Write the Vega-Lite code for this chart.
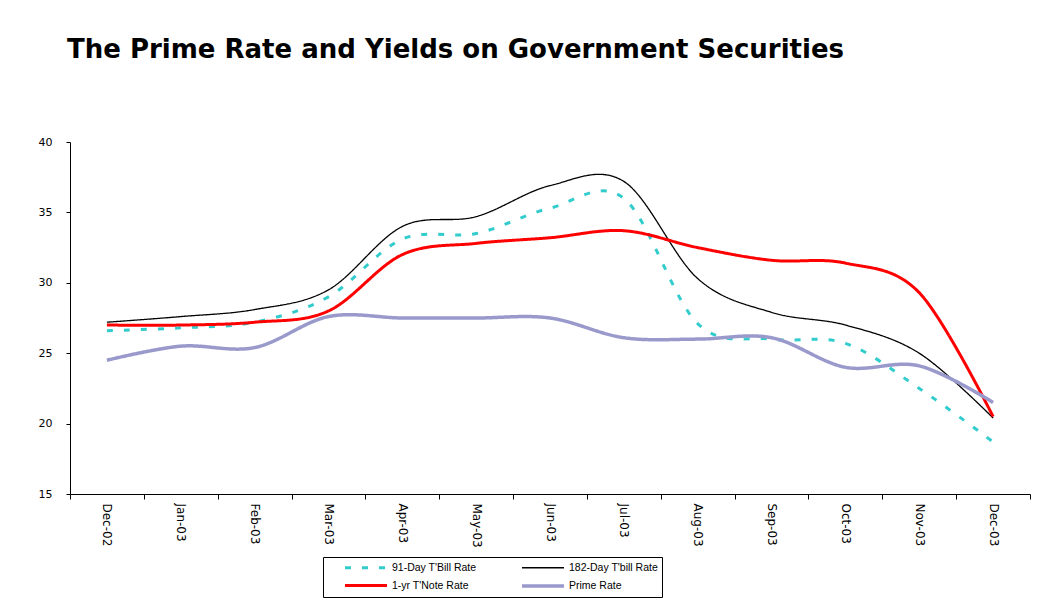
{
  "$schema": "https://vega.github.io/schema/vega-lite/v6.json",
  "width": 960,
  "height": 352,
  "autosize": {"type": "none"},
  "padding": {"left": 70, "top": 142, "right": 22, "bottom": 107},
  "background": "white",
  "title": {
    "text": "The Prime Rate and Yields on Government Securities",
    "anchor": "start",
    "frame": "group",
    "offset": 73,
    "dx": -3,
    "font": "DejaVu Sans",
    "fontSize": 26,
    "fontWeight": "bold",
    "color": "black"
  },
  "config": {
    "view": {"stroke": null},
    "axis": {
      "labelFont": "DejaVu Sans",
      "labelColor": "black",
      "domainColor": "black",
      "tickColor": "black",
      "grid": false,
      "title": null
    }
  },
  "data": {
    "values": [
      {"month": "Dec-02", "series": "91-Day T'Bill Rate", "value": 26.6},
      {"month": "Jan-03", "series": "91-Day T'Bill Rate", "value": 26.8},
      {"month": "Feb-03", "series": "91-Day T'Bill Rate", "value": 27.2},
      {"month": "Mar-03", "series": "91-Day T'Bill Rate", "value": 29.0},
      {"month": "Apr-03", "series": "91-Day T'Bill Rate", "value": 33.1},
      {"month": "May-03", "series": "91-Day T'Bill Rate", "value": 33.5},
      {"month": "Jun-03", "series": "91-Day T'Bill Rate", "value": 35.3},
      {"month": "Jul-03", "series": "91-Day T'Bill Rate", "value": 36.0},
      {"month": "Aug-03", "series": "91-Day T'Bill Rate", "value": 27.1},
      {"month": "Sep-03", "series": "91-Day T'Bill Rate", "value": 26.0},
      {"month": "Oct-03", "series": "91-Day T'Bill Rate", "value": 25.7},
      {"month": "Nov-03", "series": "91-Day T'Bill Rate", "value": 22.5},
      {"month": "Dec-03", "series": "91-Day T'Bill Rate", "value": 18.7},
      {"month": "Dec-02", "series": "182-Day T'bill Rate", "value": 27.2},
      {"month": "Jan-03", "series": "182-Day T'bill Rate", "value": 27.6},
      {"month": "Feb-03", "series": "182-Day T'bill Rate", "value": 28.1},
      {"month": "Mar-03", "series": "182-Day T'bill Rate", "value": 29.5},
      {"month": "Apr-03", "series": "182-Day T'bill Rate", "value": 34.0},
      {"month": "May-03", "series": "182-Day T'bill Rate", "value": 34.7},
      {"month": "Jun-03", "series": "182-Day T'bill Rate", "value": 36.9},
      {"month": "Jul-03", "series": "182-Day T'bill Rate", "value": 37.2},
      {"month": "Aug-03", "series": "182-Day T'bill Rate", "value": 30.3},
      {"month": "Sep-03", "series": "182-Day T'bill Rate", "value": 27.9},
      {"month": "Oct-03", "series": "182-Day T'bill Rate", "value": 27.0},
      {"month": "Nov-03", "series": "182-Day T'bill Rate", "value": 25.0},
      {"month": "Dec-03", "series": "182-Day T'bill Rate", "value": 20.4},
      {"month": "Dec-02", "series": "1-yr T'Note Rate", "value": 27.0},
      {"month": "Jan-03", "series": "1-yr T'Note Rate", "value": 27.0},
      {"month": "Feb-03", "series": "1-yr T'Note Rate", "value": 27.2},
      {"month": "Mar-03", "series": "1-yr T'Note Rate", "value": 28.0},
      {"month": "Apr-03", "series": "1-yr T'Note Rate", "value": 32.0},
      {"month": "May-03", "series": "1-yr T'Note Rate", "value": 32.8},
      {"month": "Jun-03", "series": "1-yr T'Note Rate", "value": 33.2},
      {"month": "Jul-03", "series": "1-yr T'Note Rate", "value": 33.7},
      {"month": "Aug-03", "series": "1-yr T'Note Rate", "value": 32.5},
      {"month": "Sep-03", "series": "1-yr T'Note Rate", "value": 31.6},
      {"month": "Oct-03", "series": "1-yr T'Note Rate", "value": 31.4},
      {"month": "Nov-03", "series": "1-yr T'Note Rate", "value": 29.3},
      {"month": "Dec-03", "series": "1-yr T'Note Rate", "value": 20.5},
      {"month": "Dec-02", "series": "Prime Rate", "value": 24.5},
      {"month": "Jan-03", "series": "Prime Rate", "value": 25.5},
      {"month": "Feb-03", "series": "Prime Rate", "value": 25.4},
      {"month": "Mar-03", "series": "Prime Rate", "value": 27.6},
      {"month": "Apr-03", "series": "Prime Rate", "value": 27.5},
      {"month": "May-03", "series": "Prime Rate", "value": 27.5},
      {"month": "Jun-03", "series": "Prime Rate", "value": 27.5},
      {"month": "Jul-03", "series": "Prime Rate", "value": 26.1},
      {"month": "Aug-03", "series": "Prime Rate", "value": 26.0},
      {"month": "Sep-03", "series": "Prime Rate", "value": 26.1},
      {"month": "Oct-03", "series": "Prime Rate", "value": 24.0},
      {"month": "Nov-03", "series": "Prime Rate", "value": 24.1},
      {"month": "Dec-03", "series": "Prime Rate", "value": 21.5}
    ]
  },
  "mark": {"type": "line", "interpolate": "cardinal"},
  "encoding": {
    "x": {
      "field": "month",
      "type": "ordinal",
      "sort": ["Dec-02", "Jan-03", "Feb-03", "Mar-03", "Apr-03", "May-03", "Jun-03", "Jul-03", "Aug-03", "Sep-03", "Oct-03", "Nov-03", "Dec-03"],
      "scale": {"type": "band", "paddingInner": 0, "paddingOuter": 0},
      "bandPosition": 0.5,
      "axis": {
        "labelAngle": 90,
        "tickBand": "extent",
        "tickSize": 5,
        "labelPadding": 4,
        "labelFontSize": 12
      }
    },
    "y": {
      "field": "value",
      "type": "quantitative",
      "scale": {"domain": [15, 40], "nice": false, "zero": false},
      "axis": {
        "values": [15, 20, 25, 30, 35, 40],
        "tickSize": 4,
        "labelPadding": 14,
        "labelFontSize": 11
      }
    },
    "color": {
      "field": "series",
      "type": "nominal",
      "scale": {
        "domain": ["91-Day T'Bill Rate", "182-Day T'bill Rate", "1-yr T'Note Rate", "Prime Rate"],
        "range": ["#33CCCC", "#000000", "#FF0000", "#9999CC"]
      },
      "legend": {
        "title": null,
        "orient": "none",
        "legendX": 253,
        "legendY": 415,
        "columns": 2,
        "direction": "horizontal",
        "strokeColor": "black",
        "fillColor": "white",
        "padding": 4,
        "symbolType": "M-4.2,0H4.2",
        "symbolSize": 100,
        "symbolOffset": 32,
        "labelOffset": 19,
        "columnPadding": 27,
        "rowPadding": 5,
        "labelFont": "Liberation Sans",
        "labelFontSize": 10.5,
        "labelColor": "black",
        "labelLimit": 200
      }
    },
    "strokeDash": {
      "field": "series",
      "type": "nominal",
      "scale": {
        "domain": ["91-Day T'Bill Rate", "182-Day T'bill Rate", "1-yr T'Note Rate", "Prime Rate"],
        "range": [[6, 11], [1, 0], [1, 0], [1, 0]]
      }
    },
    "strokeWidth": {
      "field": "series",
      "type": "nominal",
      "scale": {
        "type": "ordinal",
        "domain": ["91-Day T'Bill Rate", "182-Day T'bill Rate", "1-yr T'Note Rate", "Prime Rate"],
        "range": [3, 1.3, 3, 3.5]
      }
    }
  }
}
